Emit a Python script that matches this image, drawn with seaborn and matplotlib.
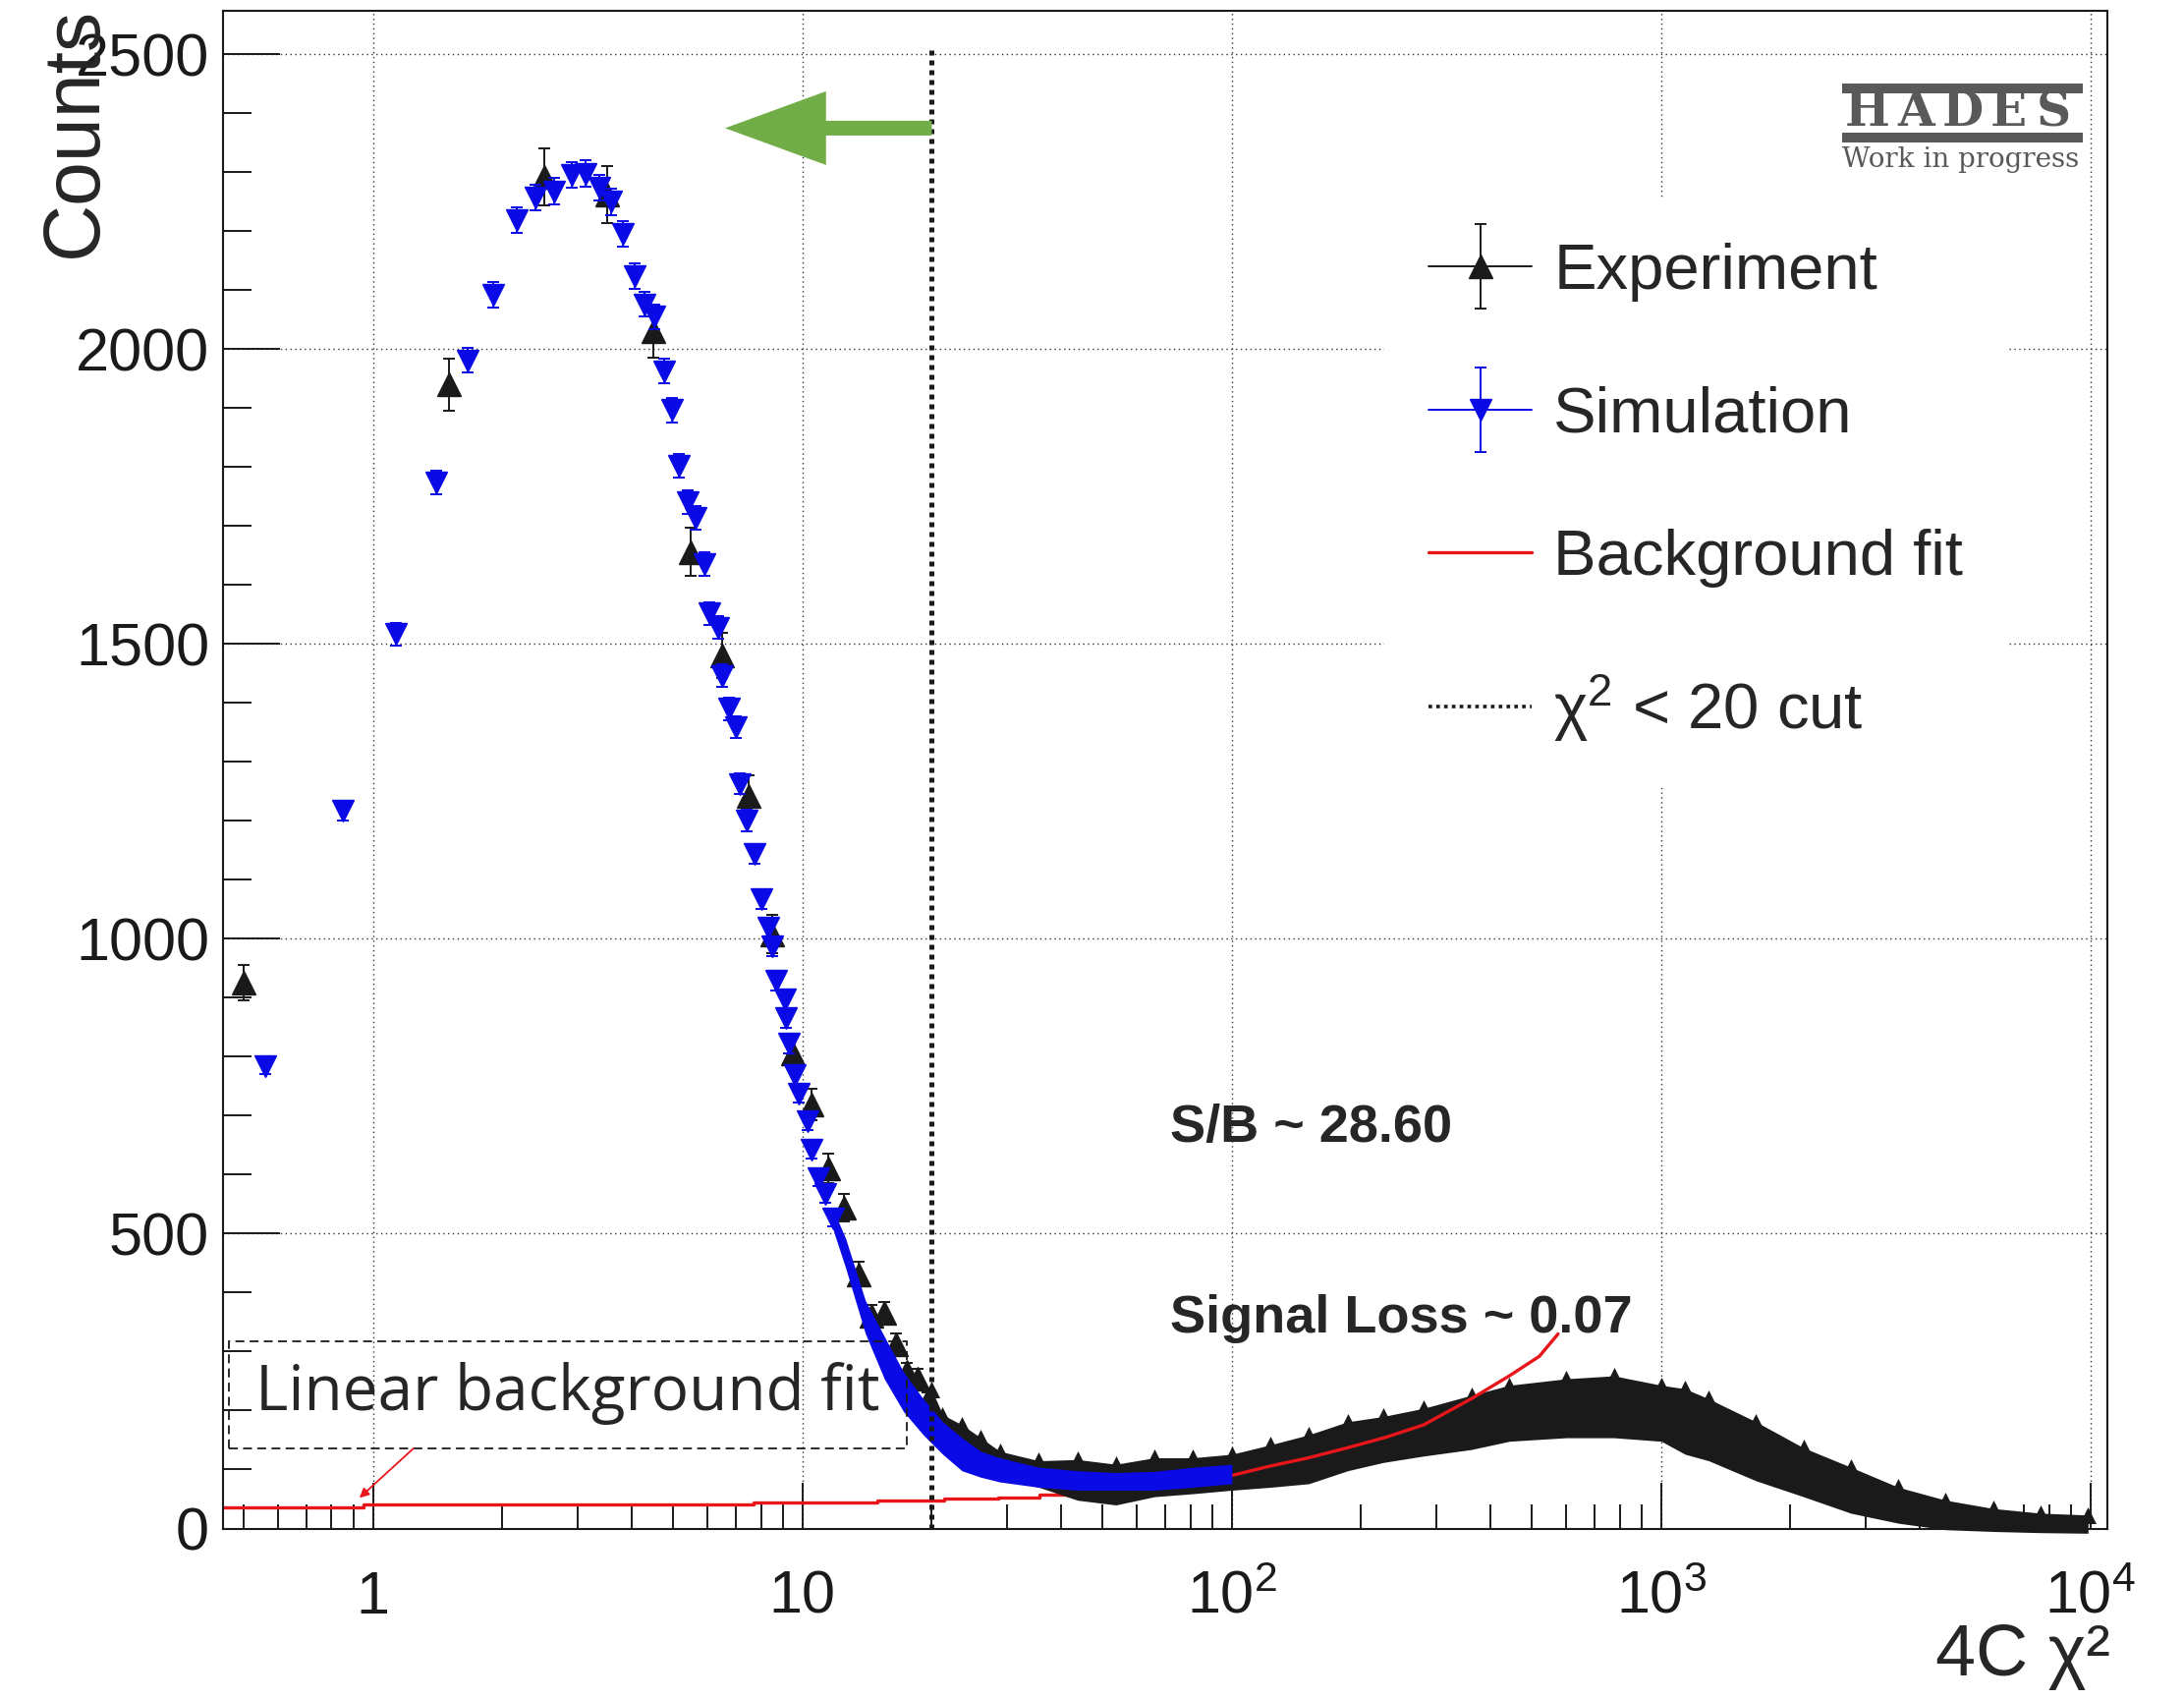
import matplotlib
matplotlib.use('Agg')
import matplotlib.pyplot as plt
import seaborn as sns
from matplotlib.lines import Line2D
from matplotlib.patches import Rectangle
from matplotlib.container import ErrorbarContainer
from matplotlib.legend_handler import HandlerTuple, HandlerErrorbar
from matplotlib.ticker import MultipleLocator, NullFormatter

# --- data ---
# Experiment, sparse part (bins of width 1)
exp_x = [0.5, 1.5, 2.5, 3.5, 4.5, 5.5, 6.5, 7.5, 8.5, 9.5,
         10.5, 11.5, 12.5, 13.5, 14.5, 15.5, 16.5, 17.5, 18.5, 19.5]
exp_y = [926, 1940, 2292, 2262, 2030, 1656, 1481, 1242, 1008, 806,
         719, 610, 544, 431, 360, 365, 312, 265, 254, 215]
exp_err = [30, 44, 48, 48, 45, 41, 38, 35, 32, 28,
           27, 25, 23, 21, 19, 19, 18, 16, 16, 15]

# Experiment, dense part: the points merge into a band (lower / upper edge)
exp_band_x = [20, 21.2, 23.5, 26, 28.8, 35.5, 43.7, 53.7, 66, 81,
              100, 123, 151, 186, 225, 280, 361, 443, 601, 775,
              1000, 1136, 1289, 1662, 2143, 2764, 3565, 4598, 5929, 7650, 9860]
exp_band_lo = [180, 140, 110, 95, 85, 70, 48, 40, 54, 59,
               65, 70, 76, 98, 112, 123, 134, 148, 154, 154,
               148, 126, 115, 81, 54, 26, 9, -2, -5, -7, -8]
exp_band_hi = [235, 193, 176, 154, 131, 115, 117, 109, 120, 120,
               126, 142, 159, 181, 190, 204, 226, 243, 254, 259,
               243, 237, 220, 181, 137, 104, 70, 48, 34, 26, 23]

# Simulation, sparse part
sim_x = [0.56, 0.85, 1.13, 1.40, 1.66, 1.90, 2.16, 2.39, 2.64, 2.90,
         3.13, 3.37, 3.59, 3.82, 4.06, 4.28, 4.52, 4.77, 4.97, 5.16,
         5.41, 5.64, 5.91, 6.07, 6.37, 6.51, 6.74, 6.98, 7.16, 7.42,
         7.75, 8.02, 8.31, 8.50, 8.68, 9.08, 9.15, 9.31, 9.57, 9.82,
         10.26, 10.5, 10.9, 11.3, 11.8]
sim_y = [784, 1217, 1517, 1774, 1981, 2092, 2219, 2257, 2268, 2296,
         2298, 2274, 2250, 2196, 2124, 2076, 2055, 1963, 1897, 1802,
         1741, 1714, 1635, 1552, 1528, 1446, 1390, 1359, 1263, 1201,
         1144, 1067, 1019, 987, 929, 897, 865, 822, 769, 737,
         690, 642, 594, 567, 525]
sim_err = [14, 17, 19, 20, 21, 22, 22, 22, 22, 22,
           22, 22, 22, 22, 21, 21, 21, 21, 21, 20,
           20, 20, 20, 19, 19, 19, 19, 18, 18, 18,
           17, 17, 17, 17, 16, 16, 16, 16, 15, 15,
           15, 14, 14, 14, 13]

# Simulation, dense band
sim_band_x = [11.8, 12.6, 14.0, 15.5, 17.2, 19.1, 21.2, 23.5, 26.0, 28.8,
              35.5, 43.7, 53.7, 66.1, 81.3, 100]
sim_band_lo = [505, 442, 331, 254, 198, 159, 126, 98, 87, 79,
               70, 65, 65, 65, 70, 76]
sim_band_hi = [540, 492, 387, 326, 265, 220, 181, 154, 131, 120,
               104, 98, 95, 97, 104, 109]

# Background fit: stepped part below 100, smooth part above
bg_step_x = [0.447, 0.95, 7.7, 14.9, 21.4, 28.6, 35.7, 42.8, 50.0, 57.1,
             64.2, 71.3, 78.5, 85.6, 92.7, 100]
bg_step_y = [36, 40, 44, 47, 50, 53, 57, 60, 64, 67,
             71, 75, 79, 83, 87, 90]
bg_curve_x = [100, 123, 151, 186, 229, 280, 361, 443, 520, 575]
bg_curve_y = [90, 106, 120, 137, 155, 176, 220, 259, 292, 330]

chi2_cut = 20
cut_top = 2514

y_ticks = [0, 500, 1000, 1500, 2000, 2500]
y_ticklabels = ['0', '500', '1000', '1500', '2000', '2500']
x_ticks = [1, 10, 100, 1000, 10000]
x_ticklabels = ['1', '10', r'$10^{2}$', r'$10^{3}$', r'$10^{4}$']

legend_labels = ['Experiment', 'Simulation', 'Background fit',
                 r'$\mathrm{\chi}^{2}$ < 20 cut']

# --- style ---
sns.set_theme(style='ticks')
plt.rcParams['font.family'] = ['Liberation Sans', 'DejaVu Sans']
plt.rcParams['mathtext.fontset'] = 'custom'
plt.rcParams['mathtext.rm'] = 'Liberation Sans'
plt.rcParams['mathtext.it'] = 'Liberation Sans:italic'
plt.rcParams['mathtext.bf'] = 'Liberation Sans:bold'

BLUE = '#0a0ae6'
RED = '#e8161b'
GREEN = '#70ad47'
GREY = '#595959'

W, H = 2223, 1729
fig = plt.figure(figsize=(W / 100, H / 100), dpi=100)
fig.patch.set_facecolor('white')
ax = fig.add_axes([227 / W, 1 - 1555.5 / H, 1918 / W, 1544.5 / H])
ax.set_facecolor('white')

# background fit, low stepped part sits under the data
sns.lineplot(x=bg_step_x, y=bg_step_y, estimator=None, drawstyle='steps-post',
             color=RED, lw=2.4, zorder=2, ax=ax)

# experiment
ax.fill_between(exp_band_x, exp_band_lo, exp_band_hi, color='k', lw=0,
                zorder=3, clip_on=False)
sns.scatterplot(x=exp_band_x, y=exp_band_hi, marker='^', s=150, color='k',
                linewidth=0, zorder=3, ax=ax, legend=False)
exp_cont = ax.errorbar(exp_x, exp_y, yerr=exp_err, fmt='^', color='k', ms=17,
                       capsize=4.5, elinewidth=1.4, capthick=1.4, zorder=4)

# background fit, upper part drawn on top of experiment
sns.lineplot(x=bg_curve_x, y=bg_curve_y, estimator=None, color=RED, lw=2.4,
             zorder=4.5, ax=ax)

# simulation
ax.fill_between(sim_band_x, sim_band_lo, sim_band_hi, color=BLUE, lw=0, zorder=5)
sim_cont = ax.errorbar(sim_x, sim_y, yerr=sim_err, fmt='v', color=BLUE, ms=16,
                       capsize=4.5, elinewidth=1.4, capthick=1.4, zorder=6)

# cut line
ax.plot([chi2_cut, chi2_cut], [0, cut_top], ls=(0, (1, 1)), lw=3.6, color='k',
        zorder=8)

# green arrow (accepted side of the cut)
ax.annotate('', xy=(6.6, 2375), xytext=(chi2_cut, 2375),
            arrowprops=dict(arrowstyle='simple,head_length=7.4,head_width=5.4,tail_width=1.08',
                            mutation_scale=10, color=GREEN, lw=0,
                            shrinkA=0, shrinkB=0), zorder=9)

# annotation box for the linear background fit
ax.add_patch(Rectangle((0.462, 136), 17.5 - 0.462, 317.5 - 136, fill=False,
                       ls=(0, (5, 3)), lw=1.3, ec='k', zorder=9))
ax.text(2.83, 229, 'Linear background fit', family='Open Sans', fontsize=46,
        ha='center', va='center', zorder=10)
ax.annotate('', xy=(0.929, 52), xytext=(1.242, 136),
            arrowprops=dict(arrowstyle='-|>', color=RED, lw=1.3,
                            mutation_scale=14, shrinkA=0, shrinkB=0), zorder=9)

ax.text(71.8, 679, 'S/B ~ 28.60', fontweight='bold', fontsize=39,
        ha='left', va='center', zorder=10)
ax.text(71.8, 355, 'Signal Loss ~ 0.07', fontweight='bold', fontsize=39,
        ha='left', va='center', zorder=10)

# axes
ax.set_xscale('log')
ax.set_xlim(0.447, 10940)
ax.set_ylim(0, 2574)
ax.set_xticks(x_ticks, labels=x_ticklabels, va='baseline')
ax.xaxis.set_minor_formatter(NullFormatter())
ax.set_yticks(y_ticks, labels=y_ticklabels)
ax.yaxis.set_minor_locator(MultipleLocator(100))

ax.tick_params(axis='both', which='both', direction='in', top=False, right=False,
               bottom=True, left=True, width=1.4, colors='k')
ax.tick_params(axis='y', which='major', length=42, pad=10, labelsize=44)
ax.tick_params(axis='y', which='minor', length=21)
ax.tick_params(axis='x', which='major', length=34, pad=62, labelsize=44)
ax.tick_params(axis='x', which='minor', length=18)
for s in ax.spines.values():
    s.set_color('k')
    s.set_linewidth(1.5)
    s.set_visible(True)

ax.grid(True, which='major', ls=(0, (1, 2.5)), lw=1.0, color='#333333')
ax.set_axisbelow(True)

ax.set_ylabel('Counts', loc='top', fontsize=58)
ax.yaxis.set_label_coords(-0.0586, 1.0026)
ax.set_xlabel('4C χ²', loc='right', fontsize=53)
ax.xaxis.set_label_coords(1.0016, -0.062)

# legend
h_exp = (Line2D([], [], color='k', lw=1.4), exp_cont)
h_sim = (Line2D([], [], color=BLUE, lw=1.4), sim_cont)
h_bg = Line2D([], [], color=RED, lw=2.4)
h_cut = Line2D([], [], color='k', lw=2.6, ls=(0, (1, 1.2)))
leg = ax.legend([h_exp, h_sim, h_bg, h_cut], legend_labels,
                handler_map={tuple: HandlerTuple(ndivide=1, pad=0),
                             ErrorbarContainer: HandlerErrorbar(yerr_size=0.66)},
                loc='upper left', bbox_to_anchor=(0.6165, 0.8763),
                frameon=True, facecolor='white', edgecolor='none', framealpha=1,
                fancybox=False, borderpad=0.69, borderaxespad=0,
                handlelength=1.6, handletextpad=0.34, labelspacing=1.31,
                fontsize=47)
leg.set_zorder(12)

# HADES logo
fig.add_artist(Rectangle((1875 / W, 1 - 95 / H), 245 / W, 10 / H,
                         transform=fig.transFigure, color=GREY, lw=0))
fig.add_artist(Rectangle((1875 / W, 1 - 145 / H), 245 / W, 10 / H,
                         transform=fig.transFigure, color=GREY, lw=0))
for cx, ch in zip([1901, 1950, 1998, 2044, 2090], 'HADES'):
    fig.text(cx / W, 1 - 115 / H, ch, family='DejaVu Serif', fontweight='bold',
             fontsize=35, color=GREY, ha='center', va='center')
fig.text(1996 / W, 1 - 162 / H, 'Work in progress', family='DejaVu Serif',
         fontsize=20, color=GREY, ha='center', va='center')

fig.savefig('out.png', dpi=100)
